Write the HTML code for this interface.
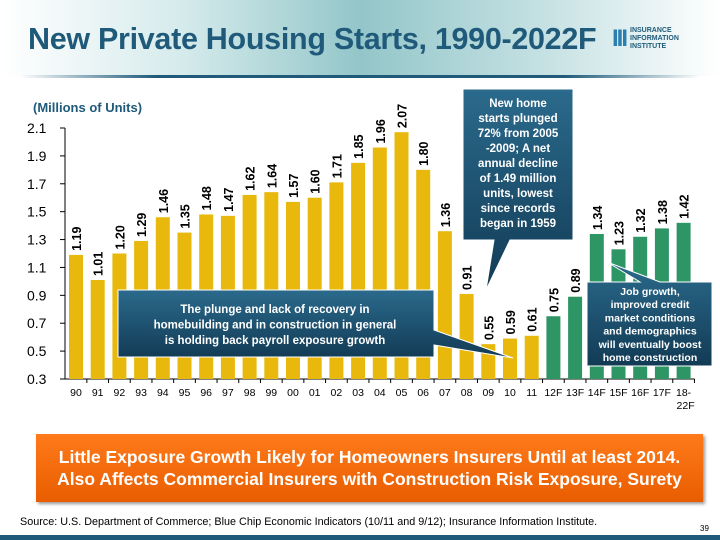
<!DOCTYPE html>
<html><head><meta charset="utf-8"><style>
body{margin:0;width:720px;height:540px;overflow:hidden;background:#fff;font-family:"Liberation Sans",sans-serif;position:relative}
#hdr{position:absolute;left:0;top:0;width:720px;height:76px;background:linear-gradient(90deg,#fff 0%,#d6ebec 25%,#93c6c9 50%,#c4e0e2 75%,#fff 100%)}
#hline{position:absolute;left:20px;top:75px;width:680px;height:3px;background:linear-gradient(90deg,rgba(31,90,122,0),#1f5a7a 20%,#1f5a7a 80%,rgba(31,90,122,0))}
#title{position:absolute;left:28px;top:22px;font-size:30.5px;font-weight:bold;color:#1f5a7a;letter-spacing:-0.3px}
#logo{position:absolute;left:612px;top:27px;display:flex;align-items:center}
#logo .mk{font-size:24px;font-weight:bold;color:#2a7fb0;line-height:24px;margin-right:4px;letter-spacing:-2px}
#logo .tx{font-size:7px;font-weight:bold;color:#1f5a7a;line-height:8px}
#banner{position:absolute;left:36px;top:434px;width:667px;height:68px;background:linear-gradient(#ff7a1a,#e85d00);box-shadow:2px 2px 3px #999;color:#fff;font-weight:bold;font-size:17.5px;text-align:center;line-height:22px;padding-top:12px;box-sizing:border-box;white-space:nowrap}
#src{position:absolute;left:20px;top:516px;font-size:10.8px;color:#000;white-space:nowrap}
#pg{position:absolute;left:700px;top:524px;font-size:8px}
#foot{position:absolute;left:0;top:535px;width:720px;height:5px;background:#1f5a7a}
</style></head><body>
<div id="hdr"></div>
<div id="hline"></div>
<div id="title">New Private Housing Starts, 1990-2022F</div>
<div id="logo"><span class="mk">III</span><span class="tx">INSURANCE<br>INFORMATION<br>INSTITUTE</span></div>
<svg id="chart" width="720" height="540" style="position:absolute;left:0;top:0"></svg>
<div id="banner">Little Exposure Growth Likely for Homeowners Insurers Until at least 2014.<br>Also Affects Commercial Insurers with Construction Risk Exposure, Surety</div>
<div id="src">Source: U.S. Department of Commerce; Blue Chip Economic Indicators (10/11 and 9/12); Insurance Information Institute.</div>
<div id="pg">39</div>
<div id="foot"></div>
<script>
const categories=["90","91","92","93","94","95","96","97","98","99","00","01","02","03","04","05","06","07","08","09","10","11","12F","13F","14F","15F","16F","17F","18-22F"];
const values=[1.19,1.01,1.20,1.29,1.46,1.35,1.48,1.47,1.62,1.64,1.57,1.60,1.71,1.85,1.96,2.07,1.80,1.36,0.91,0.55,0.59,0.61,0.75,0.89,1.34,1.23,1.32,1.38,1.42];
const forecastFlags=[0,0,0,0,0,0,0,0,0,0,0,0,0,0,0,0,0,0,0,0,0,0,1,1,1,1,1,1,1];
const yTicks=[0.3,0.5,0.7,0.9,1.1,1.3,1.5,1.7,1.9,2.1];
const NS="http://www.w3.org/2000/svg";
const svg=document.getElementById('chart');
const y0=379,y1=128,vmin=0.3,vmax=2.1,x0=76,step=21.7,axisX=65;
const yS=v=>y0-(v-vmin)/(vmax-vmin)*(y0-y1);
const xS=i=>x0+i*step;
function mk(t,a,p){const e=document.createElementNS(NS,t);for(const k in a)e.setAttribute(k,a[k]);(p||svg).appendChild(e);return e;}
let e=mk('text',{x:33,y:112,'font-size':13,'font-weight':'bold',fill:'#1f5a7a'});e.textContent='(Millions of Units)';


e=mk('line',{x1:axisX,y1:y1,x2:axisX,y2:y0,stroke:'#000','stroke-width':1});


e=mk('line',{x1:axisX,y1:y0,x2:xS(categories.length-1)+11,y2:y0,stroke:'#000','stroke-width':1});


yTicks.forEach(t=>{
 mk('line',{x1:axisX-5,x2:axisX,y1:yS(t),y2:yS(t),stroke:'#000'});
 const l=mk('text',{x:27,y:yS(t)+5,'font-size':14,fill:'#000'});l.textContent=t.toFixed(1);
 
 
});
categories.forEach((c,i)=>{
 const x=xS(i),v=values[i];
 mk('line',{x1:x+step/2,x2:x+step/2,y1:y0,y2:y0+4,stroke:'#000'});
 const b=mk('rect',{x:x-7,y:yS(v),width:14,height:y0-yS(v),fill:forecastFlags[i]?'#2e9665':'#e8b90c'});
 
 
 const t=mk('text',{transform:`translate(${x+5},${yS(v)-4}) rotate(-90)`,'font-size':12.5,'font-weight':'bold',fill:'#000'});t.textContent=v.toFixed(2);
 
 
 const xl=mk('text',{x:x,y:396,'font-size':10.5,'text-anchor':'middle',fill:'#000'});
 if(c==="18-22F"){xl.textContent='18-';const x2=mk('text',{x:x+2,y:409,'font-size':10.5,'text-anchor':'middle'});x2.textContent='22F';}
 else xl.textContent=c;
 
 
});
const defs=mk('defs',{});
const g=mk('linearGradient',{id:'cg',x1:0,y1:0,x2:0,y2:1},defs);
mk('stop',{offset:0,'stop-color':'#2b6a8c'},g);mk('stop',{offset:1,'stop-color':'#123b55'},g);
function callout(name,pts,lines,tx,ty,lh,fs){
 const p=mk('polygon',{points:pts,fill:'url(#cg)',stroke:'#fff','stroke-width':1});
 
 
 lines.forEach((s,k)=>{const t=mk('text',{x:tx,y:ty+k*lh,'font-size':fs,'font-weight':'bold',fill:'#fff','text-anchor':'middle'});t.textContent=s;});
}
callout('plunge-callout','118,290 434,290 434,330 513,358 434,345 434,357 118,357',["The plunge and lack of recovery in","homebuilding and in construction in general","is holding back payroll exposure growth"],275,313,15.5,11.5);
callout('decline-callout','463,89 573,89 573,240 510,240 486,290 494,240 463,240',["New home","starts plunged","72% from 2005","-2009; A net","annual decline","of 1.49 million","units, lowest","since records","began in 1959"],518,107,15,11.5);
callout('growth-callout','587,282 640,282 607,262 660,282 712,282 712,366 587,366',["Job growth,","improved credit","market conditions","and demographics","will eventually boost","home construction"],650,295,13.2,10.5);
</script>
</body></html>
